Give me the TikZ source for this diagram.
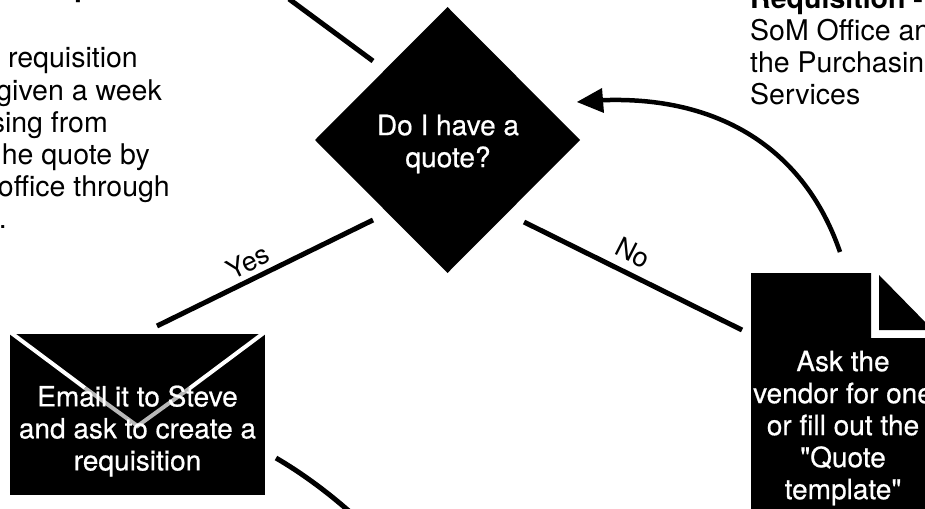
\documentclass[tikz,border=0pt]{standalone}
\usepackage{fontspec}
\setmainfont{TeX Gyre Heros}[Ligatures=TeXOff]
\newfontfamily\heavyfont{TeX Gyre Heros}[Ligatures=TeXOff,FakeBold=0.6]
\tikzset{
  x=1pt,y=-1pt,
  link/.style={line width=5pt},
  shapefill/.style={fill=black,draw=none},
  whitetext/.style={text=white,align=center,font=\heavyfont\fontsize{28}{32}\selectfont},
  blacktext/.style={text=black,font=\fontsize{28.5}{32}\selectfont,inner sep=0pt},
  boldtext/.style={text=black,font=\fontsize{28.5}{32}\selectfont\bfseries,inner sep=0pt},
  edgelabel/.style={text=black,font=\fontsize{27}{30}\selectfont,inner sep=0pt},
  vfade/.style={line width=4pt,color=white!72!black},
}
\begin{document}
\begin{tikzpicture}
\useasboundingbox (0,0) rectangle (925,508);
\clip (0,0) rectangle (925,508);
\fill[white] (0,0) rectangle (925,508);
% decision
\fill[shapefill] (315,140) -- (447.5,7) -- (580,140) -- (447.5,273) -- cycle;
\coordinate (dN) at (373,61);
\coordinate (dSW) at (373,220);
\coordinate (dSE) at (524,222);
\coordinate (dE) at (577,102);
\node[whitetext] (dq) at (448,144) {Do I have a\\quote?};
% envelope
\fill[shapefill] (10,334) rectangle (265,495);
\draw[white,line width=4pt] (10,332) -- (85,388);
\draw[white,line width=4pt] (265,332) -- (190,388);
\draw[vfade] (85,388) -- (137.5,426) -- (190,388);
\node[whitetext] (em) at (137.5,431) {Email it to Steve\\and ask to create a\\requisition};
% document
\fill[shapefill] (751,273) -- (871,273) -- (871,338) -- (930,338) -- (930,510) -- (751,510) -- cycle;
\fill[shapefill] (879,275) -- (879,330) -- (930,330) -- (930,327) -- cycle;
\node[whitetext] (dc) at (843,428) {Ask the\\vendor for one\\or fill out the\\"Quote\\template"};
% connectors
\coordinate (tl) at (289,-1);
\draw[link] (tl) -- (dN);
\coordinate (yA) at (157,326);
\draw[link] (dSW) -- (yA);
\coordinate (nA) at (742,330);
\draw[link] (dSE) -- (nA);
\coordinate (cA) at (840,252);
\coordinate (cB) at (600,100.3);
\draw[line width=4.5pt] (cA) .. controls (805,150) and (720,95) .. (cB);
\fill (dE) -- (602,88) -- (604,113) -- cycle;
\coordinate (lA) at (276,458);
\coordinate (lB) at (350,512);
\draw[link] (lA) .. controls (300,472) and (325,490) .. (lB);
% labels
\node[edgelabel,rotate=26] (yes) at (248,262) {Yes};
\node[edgelabel,rotate=-27] (no) at (633,253) {No};
% text
\node[blacktext,anchor=base east] (t1) at (138,68) {requisition};
\node[blacktext,anchor=base east] (t2) at (162,100) {given a week};
\node[blacktext,anchor=base east] (t3) at (108,132) {sing from};
\node[blacktext,anchor=base east] (t4) at (150,164) {he quote by};
\node[blacktext,anchor=base east] (t5) at (170,196) {office through};
\node[blacktext,anchor=base east] (t6) at (7,228) {.};
\node[boldtext,anchor=base] (t0) at (83,-3) {p};
\node[boldtext,anchor=base west] (r0) at (750,9) {Requisition -};
\node[blacktext,anchor=base west] (r1) at (750,41) {SoM Office an};
\node[blacktext,anchor=base west] (r2) at (750,73) {the Purchasin};
\node[blacktext,anchor=base west] (r3) at (750,104) {Services};
\end{tikzpicture}
\end{document}
